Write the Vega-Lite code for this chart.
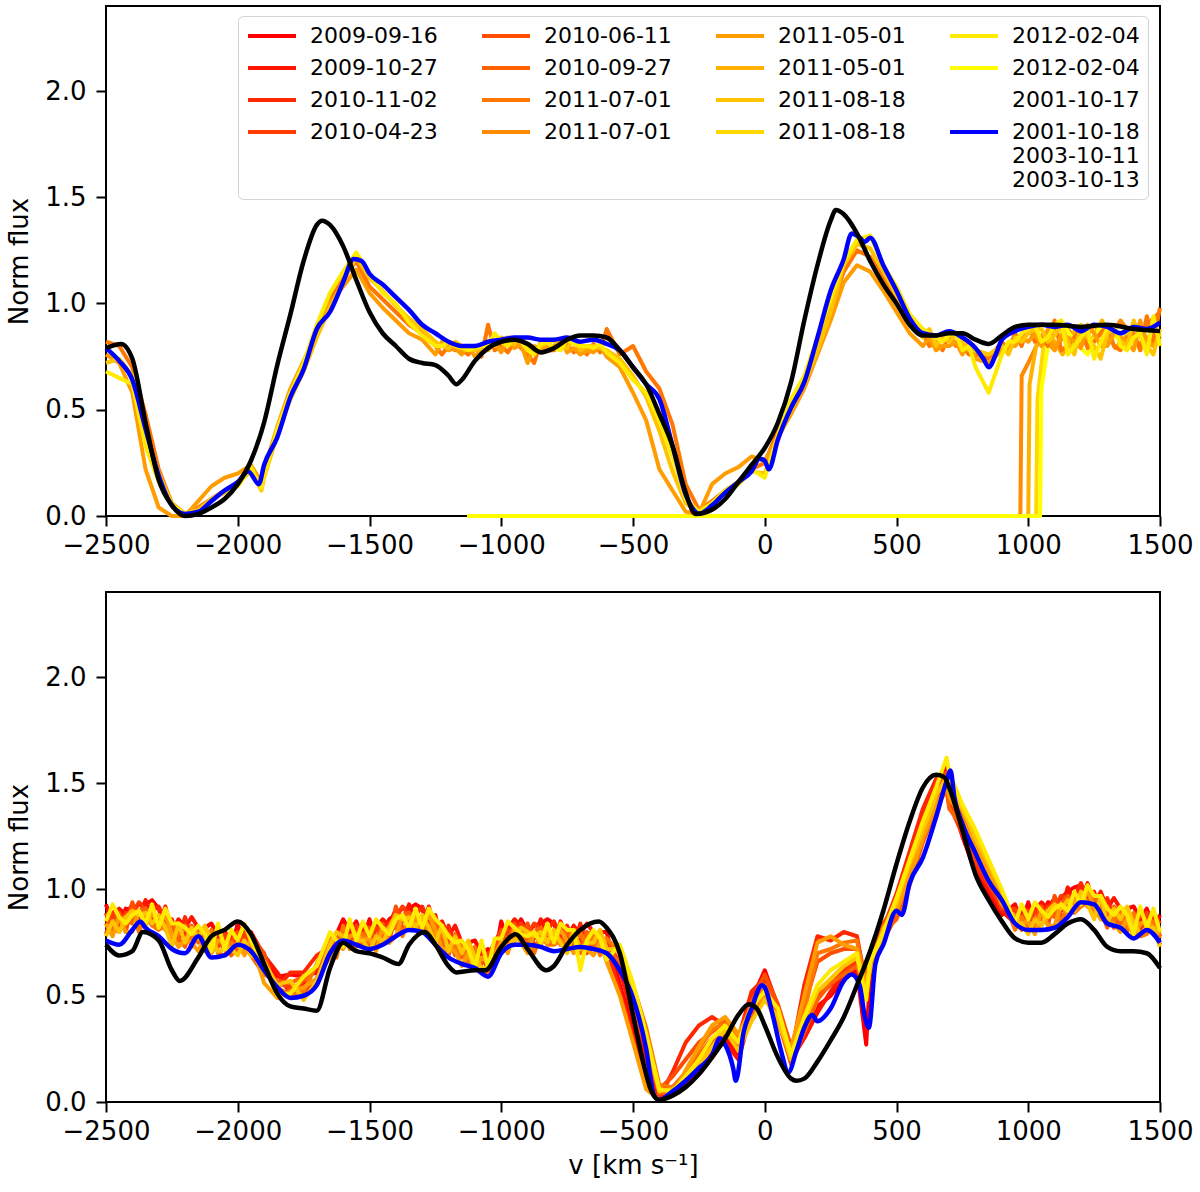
{
  "$schema": "https://vega.github.io/schema/vega-lite/v6.json",
  "background": "white",
  "padding": {"left": 5, "top": 5, "right": 5, "bottom": 5},
  "spacing": 76,
  "bounds": "flush",
  "datasets": {
    "topWide": [
      {"x":-2500,"G":0.82,"I":0.76,"K":0.72,"M":0.68},
      {"x":-2450,"G":0.80,"I":0.72,"K":0.74,"M":0.65},
      {"x":-2400,"G":0.70,"I":0.58,"K":0.66,"M":0.62},
      {"x":-2350,"G":0.48,"I":0.22,"K":0.40,"M":0.33},
      {"x":-2300,"G":0.22,"I":0.04,"K":0.20,"M":0.16},
      {"x":-2250,"G":0.06,"I":0.0,"K":0.06,"M":0.05},
      {"x":-2200,"G":0.01,"I":0.0,"K":0.01,"M":0.01},
      {"x":-2150,"G":0.04,"I":0.07,"K":0.03,"M":0.02},
      {"x":-2100,"G":0.08,"I":0.14,"K":0.08,"M":0.07},
      {"x":-2050,"G":0.12,"I":0.18,"K":0.11,"M":0.12},
      {"x":-2000,"G":0.15,"I":0.20,"K":0.16,"M":0.14},
      {"x":-1950,"G":0.22,"I":0.24,"K":0.21,"M":0.23},
      {"x":-1910,"G":0.14,"I":0.16,"K":0.12,"M":0.13},
      {"x":-1900,"G":0.20,"I":0.22,"K":0.18,"M":0.19},
      {"x":-1850,"G":0.40,"I":0.42,"K":0.38,"M":0.41},
      {"x":-1800,"G":0.57,"I":0.60,"K":0.55,"M":0.58},
      {"x":-1750,"G":0.70,"I":0.73,"K":0.68,"M":0.72},
      {"x":-1700,"G":0.88,"I":0.86,"K":0.84,"M":0.90},
      {"x":-1650,"G":1.02,"I":1.00,"K":0.98,"M":1.05},
      {"x":-1600,"G":1.12,"I":1.08,"K":1.10,"M":1.15},
      {"x":-1550,"G":1.20,"I":1.16,"K":1.22,"M":1.24},
      {"x":-1500,"G":1.08,"I":1.05,"K":1.12,"M":1.14},
      {"x":-1450,"G":1.02,"I":0.98,"K":1.06,"M":1.05},
      {"x":-1400,"G":0.96,"I":0.92,"K":0.99,"M":1.00},
      {"x":-1350,"G":0.90,"I":0.86,"K":0.93,"M":0.91},
      {"x":-1300,"G":0.86,"I":0.83,"K":0.88,"M":0.85},
      {"x":-1250,"G":0.80,"I":0.76,"K":0.82,"M":0.80},
      {"x":-1200,"G":0.80,"I":0.78,"K":0.79,"M":0.82},
      {"x":-1150,"G":0.78,"I":0.76,"K":0.80,"M":0.79},
      {"x":-1100,"G":0.80,"I":0.75,"K":0.78,"M":0.79},
      {"x":-1050,"G":0.90,"I":0.78,"K":0.82,"M":0.80},
      {"x":-1000,"G":0.80,"I":0.77,"K":0.84,"M":0.82},
      {"x":-950,"G":0.82,"I":0.79,"K":0.81,"M":0.84},
      {"x":-900,"G":0.76,"I":0.72,"K":0.80,"M":0.78},
      {"x":-850,"G":0.82,"I":0.78,"K":0.80,"M":0.81},
      {"x":-800,"G":0.78,"I":0.80,"K":0.83,"M":0.79},
      {"x":-750,"G":0.81,"I":0.77,"K":0.79,"M":0.83},
      {"x":-700,"G":0.80,"I":0.76,"K":0.78,"M":0.80},
      {"x":-650,"G":0.81,"I":0.77,"K":0.80,"M":0.79},
      {"x":-600,"G":0.88,"I":0.75,"K":0.78,"M":0.77},
      {"x":-550,"G":0.76,"I":0.70,"K":0.74,"M":0.72},
      {"x":-500,"G":0.80,"I":0.58,"K":0.66,"M":0.64},
      {"x":-450,"G":0.68,"I":0.45,"K":0.56,"M":0.58},
      {"x":-400,"G":0.60,"I":0.22,"K":0.40,"M":0.45},
      {"x":-350,"G":0.43,"I":0.12,"K":0.21,"M":0.28},
      {"x":-300,"G":0.15,"I":0.02,"K":0.06,"M":0.08},
      {"x":-250,"G":0.03,"I":0.01,"K":0.01,"M":0.02},
      {"x":-200,"G":0.07,"I":0.15,"K":0.06,"M":0.06},
      {"x":-150,"G":0.12,"I":0.20,"K":0.11,"M":0.12},
      {"x":-100,"G":0.16,"I":0.23,"K":0.15,"M":0.16},
      {"x":-50,"G":0.22,"I":0.28,"K":0.21,"M":0.22},
      {"x":0,"G":0.25,"I":0.26,"K":0.20,"M":0.18},
      {"x":50,"G":0.40,"I":0.37,"K":0.36,"M":0.38},
      {"x":100,"G":0.52,"I":0.48,"K":0.50,"M":0.55},
      {"x":150,"G":0.64,"I":0.60,"K":0.62,"M":0.66},
      {"x":200,"G":0.80,"I":0.76,"K":0.78,"M":0.84},
      {"x":250,"G":0.98,"I":0.92,"K":0.96,"M":1.02},
      {"x":300,"G":1.15,"I":1.10,"K":1.18,"M":1.20},
      {"x":350,"G":1.25,"I":1.18,"K":1.28,"M":1.30},
      {"x":400,"G":1.22,"I":1.15,"K":1.26,"M":1.32},
      {"x":450,"G":1.12,"I":1.06,"K":1.15,"M":1.18},
      {"x":500,"G":1.00,"I":0.96,"K":1.04,"M":1.08},
      {"x":550,"G":0.90,"I":0.86,"K":0.92,"M":0.95},
      {"x":600,"G":0.86,"I":0.80,"K":0.84,"M":0.88},
      {"x":650,"G":0.82,"I":0.78,"K":0.80,"M":0.84},
      {"x":700,"G":0.86,"I":0.80,"K":0.82,"M":0.85},
      {"x":750,"G":0.80,"I":0.76,"K":0.82,"M":0.78},
      {"x":800,"G":0.76,"I":0.74,"K":0.78,"M":0.70},
      {"x":850,"G":0.74,"I":0.72,"K":0.76,"M":0.58},
      {"x":900,"G":0.82,"I":0.78,"K":0.80,"M":0.76},
      {"x":950,"G":0.86,"I":0.80,"K":0.84,"M":0.82},
      {"x":1000,"G":0.90,"I":0.82,"K":0.86,"M":0.88},
      {"x":1050,"G":0.84,"I":0.80,"K":0.88,"M":0.82},
      {"x":1100,"G":0.92,"I":0.78,"K":0.85,"M":0.90},
      {"x":1150,"G":0.80,"I":0.84,"K":0.82,"M":0.76},
      {"x":1200,"G":0.88,"I":0.79,"K":0.90,"M":0.84},
      {"x":1250,"G":0.82,"I":0.86,"K":0.80,"M":0.74},
      {"x":1300,"G":0.90,"I":0.80,"K":0.86,"M":0.88},
      {"x":1350,"G":0.78,"I":0.84,"K":0.82,"M":0.80},
      {"x":1400,"G":0.86,"I":0.78,"K":0.92,"M":0.84},
      {"x":1450,"G":0.94,"I":0.82,"K":0.80,"M":0.76},
      {"x":1500,"G":0.98,"I":0.84,"K":0.88,"M":0.80},
      {"x":-1225,"G":0.76,"I":0.82,"K":0.80,"M":0.80},
      {"x":-1175,"G":0.78,"I":0.79,"K":0.82,"M":0.80},
      {"x":-1125,"G":0.76,"I":0.80,"K":0.79,"M":0.78},
      {"x":-1075,"G":0.75,"I":0.78,"K":0.79,"M":0.80},
      {"x":-1025,"G":0.78,"I":0.82,"K":0.80,"M":0.86},
      {"x":-975,"G":0.77,"I":0.84,"K":0.82,"M":0.80},
      {"x":-925,"G":0.79,"I":0.81,"K":0.84,"M":0.82},
      {"x":-875,"G":0.72,"I":0.80,"K":0.78,"M":0.76},
      {"x":-825,"G":0.78,"I":0.80,"K":0.81,"M":0.82},
      {"x":-775,"G":0.80,"I":0.83,"K":0.79,"M":0.78},
      {"x":-725,"G":0.77,"I":0.79,"K":0.83,"M":0.81},
      {"x":-675,"G":0.76,"I":0.78,"K":0.80,"M":0.80},
      {"x":-625,"G":0.77,"I":0.80,"K":0.79,"M":0.81},
      {"x":625,"G":0.80,"I":0.84,"K":0.88,"M":0.86},
      {"x":675,"G":0.78,"I":0.80,"K":0.84,"M":0.82},
      {"x":725,"G":0.80,"I":0.82,"K":0.85,"M":0.86},
      {"x":775,"G":0.76,"I":0.82,"K":0.78,"M":0.80},
      {"x":925,"G":0.78,"I":0.80,"K":0.76,"M":0.82},
      {"x":975,"G":0.80,"I":0.84,"K":0.82,"M":0.86},
      {"x":1025,"G":0.82,"I":0.86,"K":0.88,"M":0.90},
      {"x":1075,"G":0.80,"I":0.88,"K":0.82,"M":0.84},
      {"x":1125,"G":0.78,"I":0.85,"K":0.90,"M":0.92},
      {"x":1175,"G":0.84,"I":0.82,"K":0.76,"M":0.80},
      {"x":1225,"G":0.79,"I":0.90,"K":0.84,"M":0.88},
      {"x":1275,"G":0.86,"I":0.80,"K":0.74,"M":0.82},
      {"x":1325,"G":0.80,"I":0.86,"K":0.88,"M":0.90},
      {"x":1375,"G":0.84,"I":0.82,"K":0.80,"M":0.78},
      {"x":1425,"G":0.78,"I":0.92,"K":0.84,"M":0.86},
      {"x":1475,"G":0.82,"I":0.80,"K":0.76,"M":0.94}
    ],
    "topPart": [
      {"s":"H","x":[-1130,970,975,1000,1050,1100,1150,1200,1250,1300,1350,1400,1450,1500],"y":[0,0,0.66,0.72,0.85,0.78,0.88,0.80,0.90,0.82,0.92,0.84,0.90,0.96]},
      {"s":"J","x":[-1130,1000,1005,1030,1080,1130,1180,1230,1280,1330,1380,1430,1480,1500],"y":[0,0,0.62,0.80,0.86,0.76,0.88,0.80,0.92,0.79,0.86,0.80,0.88,0.84]},
      {"s":"L","x":[-1130,1030,1035,1060,1110,1160,1210,1260,1310,1360,1410,1460,1500],"y":[0,0,0.55,0.82,0.90,0.80,0.86,0.78,0.88,0.82,0.90,0.80,0.86]},
      {"s":"N","x":[-1130,1045,1050,1075,1125,1175,1225,1275,1325,1375,1425,1475,1500],"y":[0,0,0.60,0.80,0.92,0.82,0.76,0.90,0.84,0.88,0.78,0.86,0.82]}
    ],
    "topBlue": [
      {"s":"P","x":[-2500,-2450,-2400,-2350,-2300,-2250,-2200,-2150,-2100,-2050,-2000,-1960,-1920,-1900,-1850,-1800,-1750,-1700,-1650,-1600,-1560,-1530,-1500,-1450,-1400,-1350,-1300,-1250,-1200,-1150,-1100,-1050,-1000,-950,-900,-850,-800,-750,-700,-650,-600,-550,-500,-450,-400,-350,-300,-270,-250,-200,-150,-100,-50,-20,0,15,50,100,150,200,250,300,330,360,380,400,450,500,550,600,650,700,750,800,830,850,880,900,950,1000,1050,1100,1150,1200,1250,1300,1350,1400,1450,1500],
       "y":[0.79,0.73,0.64,0.41,0.19,0.05,0.01,0.02,0.07,0.12,0.16,0.21,0.15,0.24,0.37,0.56,0.69,0.88,0.96,1.10,1.21,1.20,1.14,1.09,1.03,0.97,0.90,0.86,0.82,0.80,0.80,0.82,0.83,0.84,0.84,0.83,0.83,0.84,0.82,0.83,0.81,0.78,0.70,0.62,0.55,0.33,0.10,0.03,0.01,0.05,0.11,0.16,0.21,0.27,0.26,0.22,0.36,0.51,0.63,0.84,1.06,1.21,1.33,1.31,1.29,1.31,1.18,1.06,0.93,0.86,0.85,0.87,0.84,0.79,0.74,0.70,0.77,0.83,0.87,0.89,0.90,0.89,0.90,0.87,0.90,0.89,0.86,0.89,0.88,0.91]}
    ],
    "topBlack": [
      {"x":[-2500,-2443,-2400,-2350,-2300,-2250,-2200,-2150,-2100,-2050,-2000,-1950,-1900,-1850,-1800,-1750,-1700,-1680,-1650,-1600,-1550,-1500,-1450,-1400,-1350,-1300,-1250,-1200,-1170,-1150,-1100,-1050,-1000,-950,-900,-850,-800,-750,-700,-650,-600,-550,-500,-450,-400,-350,-300,-263,-200,-150,-100,-50,0,50,100,150,200,250,270,300,350,400,450,500,550,600,650,700,750,800,850,900,950,1000,1100,1200,1300,1400,1500],
       "y":[0.79,0.81,0.74,0.44,0.17,0.05,0.0,0.01,0.04,0.08,0.15,0.26,0.44,0.71,0.95,1.20,1.37,1.39,1.37,1.27,1.11,0.96,0.86,0.80,0.74,0.72,0.71,0.66,0.62,0.64,0.73,0.79,0.82,0.83,0.81,0.77,0.79,0.83,0.85,0.85,0.84,0.78,0.70,0.62,0.48,0.33,0.11,0.01,0.03,0.08,0.16,0.24,0.32,0.44,0.63,0.92,1.18,1.39,1.44,1.42,1.33,1.20,1.09,1.00,0.90,0.85,0.85,0.86,0.86,0.83,0.81,0.85,0.89,0.90,0.90,0.89,0.90,0.88,0.87]}
    ],
    "botWide": [
      {"x":-2500,"A":0.93,"B":0.83,"C":0.89,"D":0.79,"E":0.89,"F":0.83,"G":0.82,"I":0.84,"K":0.78,"M":0.85},
      {"x":-2450,"A":0.84,"B":0.91,"C":0.88,"D":0.83,"E":0.89,"F":0.80,"G":0.86,"I":0.87,"K":0.80,"M":0.87},
      {"x":-2400,"A":0.90,"B":0.93,"C":0.87,"D":0.89,"E":0.94,"F":0.84,"G":0.90,"I":0.80,"K":0.90,"M":0.88},
      {"x":-2350,"A":0.93,"B":0.95,"C":0.88,"D":0.90,"E":0.84,"F":0.91,"G":0.88,"I":0.83,"K":0.89,"M":0.84},
      {"x":-2300,"A":0.91,"B":0.82,"C":0.92,"D":0.85,"E":0.84,"F":0.87,"G":0.81,"I":0.83,"K":0.88,"M":0.82},
      {"x":-2250,"A":0.84,"B":0.80,"C":0.86,"D":0.76,"E":0.82,"F":0.84,"G":0.77,"I":0.79,"K":0.73,"M":0.84},
      {"x":-2200,"A":0.79,"B":0.82,"C":0.87,"D":0.76,"E":0.82,"F":0.73,"G":0.83,"I":0.76,"K":0.75,"M":0.82},
      {"x":-2150,"A":0.79,"B":0.82,"C":0.76,"D":0.82,"E":0.79,"F":0.75,"G":0.81,"I":0.71,"K":0.77,"M":0.83},
      {"x":-2100,"A":0.84,"B":0.78,"C":0.77,"D":0.79,"E":0.73,"F":0.76,"G":0.81,"I":0.70,"K":0.76,"M":0.71},
      {"x":-2050,"A":0.81,"B":0.72,"C":0.78,"D":0.79,"E":0.72,"F":0.75,"G":0.69,"I":0.75,"K":0.72,"M":0.72},
      {"x":-2000,"A":0.84,"B":0.74,"C":0.80,"D":0.70,"E":0.80,"F":0.74,"G":0.73,"I":0.75,"K":0.69,"M":0.76},
      {"x":-1950,"A":0.73,"B":0.80,"C":0.77,"D":0.72,"E":0.78,"F":0.69,"G":0.75,"I":0.76,"K":0.69,"M":0.76},
      {"x":-1900,"A":0.66,"B":0.69,"C":0.63,"D":0.65,"E":0.70,"F":0.60,"G":0.66,"I":0.56,"K":0.66,"M":0.64},
      {"x":-1850,"A":0.59,"B":0.61,"C":0.54,"D":0.56,"E":0.50,"F":0.57,"G":0.54,"I":0.49,"K":0.55,"M":0.50},
      {"x":-1800,"A":0.60,"B":0.51,"C":0.61,"D":0.54,"E":0.53,"F":0.56,"G":0.50,"I":0.52,"K":0.57,"M":0.51},
      {"x":-1750,"A":0.59,"B":0.55,"C":0.61,"D":0.51,"E":0.57,"F":0.59,"G":0.52,"I":0.54,"K":0.48,"M":0.59},
      {"x":-1700,"A":0.61,"B":0.64,"C":0.69,"D":0.58,"E":0.64,"F":0.55,"G":0.65,"I":0.58,"K":0.57,"M":0.64},
      {"x":-1650,"A":0.76,"B":0.79,"C":0.73,"D":0.79,"E":0.76,"F":0.72,"G":0.78,"I":0.68,"K":0.74,"M":0.80},
      {"x":-1600,"A":0.86,"B":0.80,"C":0.79,"D":0.81,"E":0.75,"F":0.78,"G":0.83,"I":0.72,"K":0.78,"M":0.73},
      {"x":-1550,"A":0.85,"B":0.76,"C":0.82,"D":0.83,"E":0.76,"F":0.79,"G":0.73,"I":0.79,"K":0.76,"M":0.76},
      {"x":-1500,"A":0.86,"B":0.76,"C":0.82,"D":0.72,"E":0.82,"F":0.76,"G":0.75,"I":0.77,"K":0.71,"M":0.78},
      {"x":-1450,"A":0.79,"B":0.86,"C":0.83,"D":0.78,"E":0.84,"F":0.75,"G":0.81,"I":0.82,"K":0.75,"M":0.82},
      {"x":-1400,"A":0.88,"B":0.91,"C":0.85,"D":0.87,"E":0.92,"F":0.82,"G":0.88,"I":0.78,"K":0.88,"M":0.86},
      {"x":-1350,"A":0.91,"B":0.93,"C":0.86,"D":0.88,"E":0.82,"F":0.89,"G":0.86,"I":0.81,"K":0.87,"M":0.82},
      {"x":-1300,"A":0.91,"B":0.82,"C":0.92,"D":0.85,"E":0.84,"F":0.87,"G":0.81,"I":0.83,"K":0.88,"M":0.82},
      {"x":-1250,"A":0.86,"B":0.82,"C":0.88,"D":0.78,"E":0.84,"F":0.86,"G":0.79,"I":0.81,"K":0.75,"M":0.86},
      {"x":-1200,"A":0.75,"B":0.78,"C":0.83,"D":0.72,"E":0.78,"F":0.69,"G":0.79,"I":0.72,"K":0.71,"M":0.78},
      {"x":-1150,"A":0.72,"B":0.75,"C":0.69,"D":0.75,"E":0.72,"F":0.68,"G":0.74,"I":0.64,"K":0.70,"M":0.76},
      {"x":-1100,"A":0.76,"B":0.70,"C":0.69,"D":0.71,"E":0.65,"F":0.68,"G":0.73,"I":0.62,"K":0.68,"M":0.63},
      {"x":-1050,"A":0.72,"B":0.63,"C":0.69,"D":0.70,"E":0.63,"F":0.66,"G":0.60,"I":0.66,"K":0.63,"M":0.63},
      {"x":-1000,"A":0.85,"B":0.75,"C":0.81,"D":0.71,"E":0.81,"F":0.75,"G":0.74,"I":0.76,"K":0.70,"M":0.77},
      {"x":-950,"A":0.79,"B":0.86,"C":0.83,"D":0.78,"E":0.84,"F":0.75,"G":0.81,"I":0.82,"K":0.75,"M":0.82},
      {"x":-900,"A":0.80,"B":0.83,"C":0.77,"D":0.79,"E":0.84,"F":0.74,"G":0.80,"I":0.70,"K":0.80,"M":0.78},
      {"x":-850,"A":0.84,"B":0.86,"C":0.79,"D":0.81,"E":0.75,"F":0.82,"G":0.79,"I":0.74,"K":0.80,"M":0.75},
      {"x":-800,"A":0.84,"B":0.75,"C":0.85,"D":0.78,"E":0.77,"F":0.80,"G":0.74,"I":0.76,"K":0.81,"M":0.75},
      {"x":-750,"A":0.81,"B":0.77,"C":0.83,"D":0.73,"E":0.79,"F":0.81,"G":0.74,"I":0.76,"K":0.70,"M":0.81},
      {"x":-700,"A":0.76,"B":0.79,"C":0.84,"D":0.73,"E":0.79,"F":0.70,"G":0.80,"I":0.73,"K":0.72,"M":0.62},
      {"x":-650,"A":0.77,"B":0.80,"C":0.74,"D":0.80,"E":0.77,"F":0.73,"G":0.79,"I":0.69,"K":0.75,"M":0.81},
      {"x":-600,"A":0.80,"B":0.74,"C":0.73,"D":0.75,"E":0.69,"F":0.72,"G":0.77,"I":0.66,"K":0.72,"M":0.67},
      {"x":-550,"A":0.55,"B":0.62,"C":0.52,"D":0.66,"E":0.64,"F":0.66,"G":0.70,"I":0.50,"K":0.72,"M":0.74},
      {"x":-500,"A":0.35,"B":0.40,"C":0.30,"D":0.45,"E":0.50,"F":0.45,"G":0.55,"I":0.28,"K":0.52,"M":0.56},
      {"x":-450,"A":0.10,"B":0.20,"C":0.08,"D":0.25,"E":0.32,"F":0.26,"G":0.35,"I":0.06,"K":0.30,"M":0.32},
      {"x":-400,"A":0.02,"B":0.03,"C":0.02,"D":0.05,"E":0.06,"F":0.04,"G":0.08,"I":0.01,"K":0.05,"M":0.06},
      {"x":-350,"A":0.05,"B":0.04,"C":0.14,"D":0.06,"E":0.12,"F":0.05,"G":0.07,"I":0.03,"K":0.06,"M":0.05},
      {"x":-300,"A":0.10,"B":0.08,"C":0.28,"D":0.10,"E":0.20,"F":0.12,"G":0.14,"I":0.15,"K":0.10,"M":0.12},
      {"x":-250,"A":0.18,"B":0.15,"C":0.36,"D":0.20,"E":0.28,"F":0.22,"G":0.25,"I":0.26,"K":0.17,"M":0.20},
      {"x":-200,"A":0.25,"B":0.24,"C":0.40,"D":0.28,"E":0.33,"F":0.30,"G":0.34,"I":0.36,"K":0.26,"M":0.30},
      {"x":-150,"A":0.30,"B":0.28,"C":0.36,"D":0.32,"E":0.38,"F":0.33,"G":0.37,"I":0.40,"K":0.34,"M":0.36},
      {"x":-100,"A":0.22,"B":0.20,"C":0.30,"D":0.25,"E":0.28,"F":0.26,"G":0.30,"I":0.32,"K":0.24,"M":0.28},
      {"x":-50,"A":0.48,"B":0.42,"C":0.52,"D":0.45,"E":0.47,"F":0.40,"G":0.46,"I":0.44,"K":0.38,"M":0.45},
      {"x":0,"A":0.62,"B":0.55,"C":0.58,"D":0.52,"E":0.60,"F":0.50,"G":0.55,"I":0.50,"K":0.48,"M":0.52},
      {"x":50,"A":0.45,"B":0.40,"C":0.44,"D":0.42,"E":0.46,"F":0.38,"G":0.42,"I":0.36,"K":0.40,"M":0.44},
      {"x":100,"A":0.18,"B":0.20,"C":0.22,"D":0.24,"E":0.26,"F":0.18,"G":0.22,"I":0.25,"K":0.20,"M":0.22},
      {"x":150,"A":0.32,"B":0.30,"C":0.55,"D":0.36,"E":0.45,"F":0.33,"G":0.42,"I":0.50,"K":0.38,"M":0.40},
      {"x":200,"A":0.45,"B":0.42,"C":0.78,"D":0.50,"E":0.66,"F":0.48,"G":0.70,"I":0.75,"K":0.52,"M":0.55},
      {"x":250,"A":0.50,"B":0.52,"C":0.76,"D":0.55,"E":0.70,"F":0.56,"G":0.72,"I":0.78,"K":0.58,"M":0.62},
      {"x":300,"A":0.58,"B":0.60,"C":0.80,"D":0.62,"E":0.72,"F":0.60,"G":0.75,"I":0.74,"K":0.64,"M":0.66},
      {"x":350,"A":0.62,"B":0.66,"C":0.78,"D":0.66,"E":0.72,"F":0.64,"G":0.76,"I":0.72,"K":0.68,"M":0.70},
      {"x":385,"A":0.27,"B":0.50,"C":0.55,"D":0.52,"E":0.58,"F":0.50,"G":0.55,"I":0.55,"K":0.50,"M":0.48},
      {"x":400,"A":0.60,"B":0.62,"C":0.68,"D":0.66,"E":0.70,"F":0.64,"G":0.66,"I":0.62,"K":0.68,"M":0.66},
      {"x":450,"A":0.80,"B":0.78,"C":0.82,"D":0.76,"E":0.84,"F":0.80,"G":0.78,"I":0.82,"K":0.77,"M":0.80},
      {"x":500,"A":0.95,"B":0.90,"C":0.98,"D":0.88,"E":0.94,"F":0.86,"G":0.92,"I":0.90,"K":0.94,"M":0.96},
      {"x":550,"A":1.15,"B":1.05,"C":1.18,"D":1.08,"E":1.12,"F":1.02,"G":1.10,"I":1.06,"K":1.12,"M":1.14},
      {"x":600,"A":1.35,"B":1.25,"C":1.38,"D":1.28,"E":1.32,"F":1.22,"G":1.30,"I":1.24,"K":1.28,"M":1.32},
      {"x":650,"A":1.50,"B":1.42,"C":1.52,"D":1.40,"E":1.48,"F":1.38,"G":1.45,"I":1.40,"K":1.44,"M":1.48},
      {"x":690,"A":1.58,"B":1.50,"C":1.52,"D":1.48,"E":1.55,"F":1.47,"G":1.50,"I":1.48,"K":1.53,"M":1.62},
      {"x":700,"A":1.45,"B":1.42,"C":1.48,"D":1.40,"E":1.50,"F":1.38,"G":1.46,"I":1.44,"K":1.50,"M":1.55},
      {"x":750,"A":1.25,"B":1.28,"C":1.30,"D":1.26,"E":1.34,"F":1.30,"G":1.35,"I":1.32,"K":1.38,"M":1.40},
      {"x":800,"A":1.08,"B":1.12,"C":1.10,"D":1.14,"E":1.18,"F":1.16,"G":1.22,"I":1.20,"K":1.24,"M":1.28},
      {"x":850,"A":0.98,"B":1.00,"C":1.02,"D":1.03,"E":1.06,"F":1.05,"G":1.10,"I":1.08,"K":1.12,"M":1.14},
      {"x":900,"A":0.88,"B":0.90,"C":0.92,"D":0.91,"E":0.95,"F":0.94,"G":0.97,"I":0.93,"K":0.99,"M":1.00},
      {"x":950,"A":0.93,"B":0.84,"C":0.90,"D":0.91,"E":0.84,"F":0.87,"G":0.81,"I":0.87,"K":0.84,"M":0.84},
      {"x":1000,"A":0.94,"B":0.84,"C":0.90,"D":0.80,"E":0.90,"F":0.84,"G":0.83,"I":0.85,"K":0.79,"M":0.86},
      {"x":1050,"A":0.87,"B":0.94,"C":0.91,"D":0.86,"E":0.92,"F":0.83,"G":0.89,"I":0.90,"K":0.83,"M":0.90},
      {"x":1100,"A":0.93,"B":0.96,"C":0.90,"D":0.92,"E":0.97,"F":0.87,"G":0.93,"I":0.83,"K":0.93,"M":0.91},
      {"x":1150,"A":0.99,"B":1.01,"C":0.94,"D":0.96,"E":0.90,"F":0.97,"G":0.94,"I":0.89,"K":0.95,"M":0.90},
      {"x":1200,"A":1.02,"B":0.93,"C":1.03,"D":0.96,"E":0.95,"F":0.98,"G":0.92,"I":0.94,"K":0.99,"M":0.93},
      {"x":1250,"A":0.97,"B":0.93,"C":0.99,"D":0.89,"E":0.95,"F":0.97,"G":0.90,"I":0.92,"K":0.86,"M":0.97},
      {"x":1300,"A":0.88,"B":0.91,"C":0.96,"D":0.85,"E":0.91,"F":0.82,"G":0.92,"I":0.85,"K":0.84,"M":0.91},
      {"x":1350,"A":0.88,"B":0.91,"C":0.85,"D":0.91,"E":0.88,"F":0.84,"G":0.90,"I":0.80,"K":0.86,"M":0.92},
      {"x":1400,"A":0.92,"B":0.86,"C":0.85,"D":0.87,"E":0.81,"F":0.84,"G":0.89,"I":0.78,"K":0.84,"M":0.79},
      {"x":1450,"A":0.91,"B":0.82,"C":0.88,"D":0.89,"E":0.82,"F":0.85,"G":0.79,"I":0.85,"K":0.82,"M":0.82},
      {"x":1500,"A":0.88,"B":0.78,"C":0.84,"D":0.74,"E":0.84,"F":0.78,"G":0.77,"I":0.79,"K":0.73,"M":0.80},
      {"x":-2475,"A":0.83,"B":0.89,"C":0.79,"D":0.89,"E":0.83,"F":0.82,"G":0.84,"I":0.78,"K":0.85,"M":0.93},
      {"x":-2425,"A":0.91,"B":0.88,"C":0.83,"D":0.89,"E":0.80,"F":0.86,"G":0.87,"I":0.80,"K":0.87,"M":0.84},
      {"x":-2375,"A":0.93,"B":0.87,"C":0.89,"D":0.94,"E":0.84,"F":0.90,"G":0.80,"I":0.90,"K":0.88,"M":0.90},
      {"x":-2325,"A":0.95,"B":0.88,"C":0.90,"D":0.84,"E":0.91,"F":0.88,"G":0.83,"I":0.89,"K":0.84,"M":0.93},
      {"x":-2275,"A":0.82,"B":0.92,"C":0.85,"D":0.84,"E":0.87,"F":0.81,"G":0.83,"I":0.88,"K":0.82,"M":0.91},
      {"x":-2225,"A":0.80,"B":0.86,"C":0.76,"D":0.82,"E":0.84,"F":0.77,"G":0.79,"I":0.73,"K":0.84,"M":0.84},
      {"x":-2175,"A":0.82,"B":0.87,"C":0.76,"D":0.82,"E":0.73,"F":0.83,"G":0.76,"I":0.75,"K":0.82,"M":0.79},
      {"x":-2125,"A":0.82,"B":0.76,"C":0.82,"D":0.79,"E":0.75,"F":0.81,"G":0.71,"I":0.77,"K":0.83,"M":0.79},
      {"x":-2075,"A":0.78,"B":0.77,"C":0.79,"D":0.73,"E":0.76,"F":0.81,"G":0.70,"I":0.76,"K":0.71,"M":0.84},
      {"x":-2025,"A":0.72,"B":0.78,"C":0.79,"D":0.72,"E":0.75,"F":0.69,"G":0.75,"I":0.72,"K":0.72,"M":0.81},
      {"x":-1975,"A":0.74,"B":0.80,"C":0.70,"D":0.80,"E":0.74,"F":0.73,"G":0.75,"I":0.69,"K":0.76,"M":0.84},
      {"x":-1625,"A":0.79,"B":0.73,"C":0.79,"D":0.76,"E":0.72,"F":0.78,"G":0.68,"I":0.74,"K":0.80,"M":0.76},
      {"x":-1575,"A":0.80,"B":0.79,"C":0.81,"D":0.75,"E":0.78,"F":0.83,"G":0.72,"I":0.78,"K":0.73,"M":0.86},
      {"x":-1525,"A":0.76,"B":0.82,"C":0.83,"D":0.76,"E":0.79,"F":0.73,"G":0.79,"I":0.76,"K":0.76,"M":0.85},
      {"x":-1475,"A":0.76,"B":0.82,"C":0.72,"D":0.82,"E":0.76,"F":0.75,"G":0.77,"I":0.71,"K":0.78,"M":0.86},
      {"x":-1425,"A":0.86,"B":0.83,"C":0.78,"D":0.84,"E":0.75,"F":0.81,"G":0.82,"I":0.75,"K":0.82,"M":0.79},
      {"x":-1375,"A":0.91,"B":0.85,"C":0.87,"D":0.92,"E":0.82,"F":0.88,"G":0.78,"I":0.88,"K":0.86,"M":0.88},
      {"x":-1325,"A":0.93,"B":0.86,"C":0.88,"D":0.82,"E":0.89,"F":0.86,"G":0.81,"I":0.87,"K":0.82,"M":0.91},
      {"x":-1275,"A":0.82,"B":0.92,"C":0.85,"D":0.84,"E":0.87,"F":0.81,"G":0.83,"I":0.88,"K":0.82,"M":0.91},
      {"x":-1225,"A":0.79,"B":0.85,"C":0.75,"D":0.81,"E":0.83,"F":0.76,"G":0.78,"I":0.72,"K":0.83,"M":0.83},
      {"x":-1175,"A":0.78,"B":0.83,"C":0.72,"D":0.78,"E":0.69,"F":0.79,"G":0.72,"I":0.71,"K":0.78,"M":0.75},
      {"x":-1125,"A":0.75,"B":0.69,"C":0.75,"D":0.72,"E":0.68,"F":0.74,"G":0.64,"I":0.70,"K":0.76,"M":0.72},
      {"x":-1075,"A":0.70,"B":0.69,"C":0.71,"D":0.65,"E":0.68,"F":0.73,"G":0.62,"I":0.68,"K":0.63,"M":0.76},
      {"x":-1025,"A":0.68,"B":0.74,"C":0.75,"D":0.68,"E":0.71,"F":0.65,"G":0.71,"I":0.68,"K":0.68,"M":0.77},
      {"x":-975,"A":0.75,"B":0.81,"C":0.71,"D":0.81,"E":0.75,"F":0.74,"G":0.76,"I":0.70,"K":0.77,"M":0.85},
      {"x":-925,"A":0.86,"B":0.83,"C":0.78,"D":0.84,"E":0.75,"F":0.81,"G":0.82,"I":0.75,"K":0.82,"M":0.79},
      {"x":-875,"A":0.83,"B":0.77,"C":0.79,"D":0.84,"E":0.74,"F":0.80,"G":0.70,"I":0.80,"K":0.78,"M":0.80},
      {"x":-825,"A":0.86,"B":0.79,"C":0.81,"D":0.75,"E":0.82,"F":0.79,"G":0.74,"I":0.80,"K":0.75,"M":0.84},
      {"x":-775,"A":0.75,"B":0.85,"C":0.78,"D":0.77,"E":0.80,"F":0.74,"G":0.76,"I":0.81,"K":0.75,"M":0.84},
      {"x":-725,"A":0.77,"B":0.83,"C":0.73,"D":0.79,"E":0.81,"F":0.74,"G":0.76,"I":0.70,"K":0.81,"M":0.81},
      {"x":-675,"A":0.79,"B":0.84,"C":0.73,"D":0.79,"E":0.70,"F":0.80,"G":0.73,"I":0.72,"K":0.75,"M":0.76},
      {"x":-625,"A":0.80,"B":0.74,"C":0.80,"D":0.77,"E":0.73,"F":0.79,"G":0.69,"I":0.75,"K":0.81,"M":0.77},
      {"x":975,"A":0.84,"B":0.90,"C":0.91,"D":0.84,"E":0.87,"F":0.81,"G":0.87,"I":0.84,"K":0.84,"M":0.93},
      {"x":1025,"A":0.84,"B":0.90,"C":0.80,"D":0.90,"E":0.84,"F":0.83,"G":0.85,"I":0.79,"K":0.86,"M":0.94},
      {"x":1075,"A":0.94,"B":0.91,"C":0.86,"D":0.92,"E":0.83,"F":0.89,"G":0.90,"I":0.83,"K":0.90,"M":0.87},
      {"x":1125,"A":0.96,"B":0.90,"C":0.92,"D":0.97,"E":0.87,"F":0.93,"G":0.83,"I":0.93,"K":0.91,"M":0.93},
      {"x":1175,"A":1.01,"B":0.94,"C":0.96,"D":0.90,"E":0.97,"F":0.94,"G":0.89,"I":0.95,"K":0.90,"M":0.99},
      {"x":1225,"A":0.93,"B":1.03,"C":0.96,"D":0.95,"E":0.98,"F":0.92,"G":0.94,"I":0.99,"K":0.93,"M":1.02},
      {"x":1275,"A":0.93,"B":0.99,"C":0.89,"D":0.95,"E":0.97,"F":0.90,"G":0.92,"I":0.86,"K":0.97,"M":0.97},
      {"x":1325,"A":0.91,"B":0.96,"C":0.85,"D":0.91,"E":0.82,"F":0.92,"G":0.85,"I":0.84,"K":0.91,"M":0.88},
      {"x":1375,"A":0.91,"B":0.85,"C":0.91,"D":0.88,"E":0.84,"F":0.90,"G":0.80,"I":0.86,"K":0.92,"M":0.88},
      {"x":1425,"A":0.86,"B":0.85,"C":0.87,"D":0.81,"E":0.84,"F":0.89,"G":0.78,"I":0.84,"K":0.79,"M":0.92},
      {"x":1475,"A":0.82,"B":0.88,"C":0.89,"D":0.82,"E":0.85,"F":0.79,"G":0.85,"I":0.82,"K":0.82,"M":0.91}
    ],
    "botBlue": [
      {"s":"P","x":[-2500,-2450,-2400,-2370,-2350,-2300,-2250,-2200,-2150,-2100,-2050,-2000,-1950,-1900,-1850,-1800,-1750,-1700,-1650,-1600,-1550,-1500,-1450,-1400,-1350,-1300,-1250,-1200,-1150,-1100,-1050,-1000,-950,-900,-850,-800,-750,-700,-650,-600,-550,-500,-450,-420,-400,-350,-300,-250,-200,-170,-150,-120,-110,-80,-50,-10,0,30,60,90,120,150,180,200,250,300,330,360,380,395,420,450,500,520,550,600,650,690,705,720,750,800,850,900,950,1000,1050,1100,1150,1200,1250,1300,1350,1400,1450,1500],
       "y":[0.76,0.74,0.81,0.85,0.82,0.78,0.72,0.70,0.78,0.68,0.69,0.74,0.71,0.62,0.54,0.49,0.50,0.55,0.70,0.76,0.74,0.72,0.74,0.78,0.81,0.80,0.74,0.68,0.65,0.63,0.59,0.70,0.74,0.74,0.73,0.71,0.72,0.73,0.72,0.70,0.62,0.49,0.25,0.03,0.01,0.05,0.10,0.16,0.22,0.30,0.27,0.16,0.10,0.33,0.44,0.55,0.54,0.41,0.25,0.14,0.24,0.35,0.41,0.38,0.44,0.57,0.60,0.55,0.40,0.35,0.65,0.74,0.90,0.88,1.03,1.15,1.34,1.51,1.56,1.43,1.31,1.17,1.04,0.95,0.84,0.81,0.81,0.82,0.87,0.94,0.93,0.84,0.82,0.77,0.81,0.75]}
    ],
    "botBlack": [
      {"x":[-2500,-2450,-2400,-2360,-2300,-2250,-2220,-2150,-2100,-2050,-2000,-1950,-1900,-1850,-1800,-1750,-1700,-1650,-1600,-1550,-1500,-1450,-1390,-1350,-1290,-1250,-1200,-1170,-1100,-1060,-1000,-945,-900,-830,-800,-750,-700,-630,-600,-550,-500,-460,-430,-400,-350,-300,-250,-200,-150,-100,-60,-30,0,50,100,120,150,200,250,300,350,400,450,500,550,600,650,680,700,750,800,850,900,950,1000,1050,1100,1150,1200,1250,1300,1350,1400,1450,1500],
       "y":[0.74,0.69,0.71,0.80,0.76,0.62,0.57,0.68,0.78,0.81,0.85,0.79,0.65,0.51,0.45,0.44,0.43,0.63,0.75,0.71,0.70,0.68,0.65,0.74,0.80,0.74,0.64,0.61,0.62,0.62,0.73,0.79,0.72,0.62,0.64,0.74,0.81,0.85,0.82,0.70,0.41,0.18,0.05,0.01,0.03,0.07,0.13,0.21,0.30,0.41,0.46,0.44,0.36,0.21,0.11,0.10,0.11,0.19,0.29,0.40,0.55,0.71,0.90,1.12,1.32,1.48,1.54,1.53,1.48,1.28,1.07,0.95,0.85,0.77,0.75,0.75,0.79,0.84,0.86,0.81,0.73,0.71,0.71,0.70,0.63]}
    ]
  },
  "vconcat": [
    {
      "width": 1054,
      "height": 510,
      "encoding": {
        "x": {"field": "x", "type": "quantitative", "scale": {"domain": [-2500, 1500], "nice": false},
              "axis": {"values": [-2500, -2000, -1500, -1000, -500, 0, 500, 1000, 1500], "format": "d", "title": null}},
        "y": {"field": "y", "type": "quantitative", "scale": {"domain": [0, 2.4], "nice": false},
              "axis": {"values": [0, 0.5, 1, 1.5, 2], "format": ".1f", "title": "Norm flux"}}
      },
      "layer": [
        {
          "data": {"name": "topPart"},
          "transform": [{"flatten": ["x", "y"]}],
          "mark": {"type": "line", "strokeWidth": 4},
          "encoding": {
            "color": {"field": "s", "type": "nominal",
              "scale": {"domain": ["A","B","C","D","E","F","G","H","I","J","K","L","M","N","O","P"],
                        "range": ["#ff0000","#ff1400","#ff2700","#ff3b00","#ff4e00","#ff6200","#ff7600","#ff8900","#ff9d00","#ffb100","#ffc400","#ffd800","#ffeb00","#ffff00","#ffffff","#0000ff"]},
              "legend": {
                "title": null, "orient": "none", "legendX": 132, "legendY": 10, "columns": 4,
                "symbolType": "M-1,0H3.8", "symbolStrokeWidth": 4, "symbolSize": 400,
                "labelFont": "DejaVu Sans", "labelFontSize": 22, "labelColor": "#000000",
                "labelOffset": 40, "labelLimit": 400, "columnPadding": 42, "rowPadding": 9,
                "padding": 8, "fillColor": "#ffffff", "strokeColor": "#d4d4d4", "cornerRadius": 5,
                "labelExpr": "datum.label=='A'?'2009-09-16':datum.label=='B'?'2009-10-27':datum.label=='C'?'2010-11-02':datum.label=='D'?'2010-04-23':datum.label=='E'?'2010-06-11':datum.label=='F'?'2010-09-27':datum.label=='G'?'2011-07-01':datum.label=='H'?'2011-07-01':datum.label=='I'?'2011-05-01':datum.label=='J'?'2011-05-01':datum.label=='K'?'2011-08-18':datum.label=='L'?'2011-08-18':datum.label=='M'?'2012-02-04':datum.label=='N'?'2012-02-04':datum.label=='O'?'2001-10-17':['2001-10-18','2003-10-11','2003-10-13']"
              }}
          }
        },
        {
          "data": {"name": "topWide"},
          "transform": [{"fold": ["G", "I", "K", "M"], "as": ["s", "y"]}],
          "mark": {"type": "line", "strokeWidth": 4},
          "encoding": {
            "color": {"field": "s", "type": "nominal",
              "scale": {"domain": ["A","B","C","D","E","F","G","H","I","J","K","L","M","N","O","P"],
                        "range": ["#ff0000","#ff1400","#ff2700","#ff3b00","#ff4e00","#ff6200","#ff7600","#ff8900","#ff9d00","#ffb100","#ffc400","#ffd800","#ffeb00","#ffff00","#ffffff","#0000ff"]},
              "legend": {
                "title": null, "orient": "none", "legendX": 132, "legendY": 10, "columns": 4,
                "symbolType": "M-1,0H3.8", "symbolStrokeWidth": 4, "symbolSize": 400,
                "labelFont": "DejaVu Sans", "labelFontSize": 22, "labelColor": "#000000",
                "labelOffset": 40, "labelLimit": 400, "columnPadding": 42, "rowPadding": 9,
                "padding": 8, "fillColor": "#ffffff", "strokeColor": "#d4d4d4", "cornerRadius": 5,
                "labelExpr": "datum.label=='A'?'2009-09-16':datum.label=='B'?'2009-10-27':datum.label=='C'?'2010-11-02':datum.label=='D'?'2010-04-23':datum.label=='E'?'2010-06-11':datum.label=='F'?'2010-09-27':datum.label=='G'?'2011-07-01':datum.label=='H'?'2011-07-01':datum.label=='I'?'2011-05-01':datum.label=='J'?'2011-05-01':datum.label=='K'?'2011-08-18':datum.label=='L'?'2011-08-18':datum.label=='M'?'2012-02-04':datum.label=='N'?'2012-02-04':datum.label=='O'?'2001-10-17':['2001-10-18','2003-10-11','2003-10-13']"
              }}
          }
        },
        {
          "data": {"name": "topBlue"},
          "transform": [{"flatten": ["x", "y"]}],
          "mark": {"type": "line", "strokeWidth": 4.5, "interpolate": "monotone"},
          "encoding": {
            "color": {"field": "s", "type": "nominal",
              "scale": {"domain": ["A","B","C","D","E","F","G","H","I","J","K","L","M","N","O","P"],
                        "range": ["#ff0000","#ff1400","#ff2700","#ff3b00","#ff4e00","#ff6200","#ff7600","#ff8900","#ff9d00","#ffb100","#ffc400","#ffd800","#ffeb00","#ffff00","#ffffff","#0000ff"]},
              "legend": {
                "title": null, "orient": "none", "legendX": 132, "legendY": 10, "columns": 4,
                "symbolType": "M-1,0H3.8", "symbolStrokeWidth": 4, "symbolSize": 400,
                "labelFont": "DejaVu Sans", "labelFontSize": 22, "labelColor": "#000000",
                "labelOffset": 40, "labelLimit": 400, "columnPadding": 42, "rowPadding": 9,
                "padding": 8, "fillColor": "#ffffff", "strokeColor": "#d4d4d4", "cornerRadius": 5,
                "labelExpr": "datum.label=='A'?'2009-09-16':datum.label=='B'?'2009-10-27':datum.label=='C'?'2010-11-02':datum.label=='D'?'2010-04-23':datum.label=='E'?'2010-06-11':datum.label=='F'?'2010-09-27':datum.label=='G'?'2011-07-01':datum.label=='H'?'2011-07-01':datum.label=='I'?'2011-05-01':datum.label=='J'?'2011-05-01':datum.label=='K'?'2011-08-18':datum.label=='L'?'2011-08-18':datum.label=='M'?'2012-02-04':datum.label=='N'?'2012-02-04':datum.label=='O'?'2001-10-17':['2001-10-18','2003-10-11','2003-10-13']"
              }}
          }
        },
        {
          "data": {"name": "topBlack"},
          "transform": [{"flatten": ["x", "y"]}],
          "mark": {"type": "line", "strokeWidth": 4.5, "color": "#000000", "interpolate": "monotone"},
          "encoding": {}
        }
      ]
    },
    {
      "width": 1054,
      "height": 510,
      "encoding": {
        "x": {"field": "x", "type": "quantitative", "scale": {"domain": [-2500, 1500], "nice": false},
              "axis": {"values": [-2500, -2000, -1500, -1000, -500, 0, 500, 1000, 1500], "format": "d", "title": "v [km s⁻¹]"}},
        "y": {"field": "y", "type": "quantitative", "scale": {"domain": [0, 2.4], "nice": false},
              "axis": {"values": [0, 0.5, 1, 1.5, 2], "format": ".1f", "title": "Norm flux"}}
      },
      "layer": [
        {
          "data": {"name": "botWide"},
          "transform": [{"fold": ["A", "B", "C", "D", "E", "F", "G", "I", "K", "M"], "as": ["s", "y"]}],
          "mark": {"type": "line", "strokeWidth": 4},
          "encoding": {
            "color": {"field": "s", "type": "nominal",
              "scale": {"domain": ["A","B","C","D","E","F","G","H","I","J","K","L","M","N","O","P"],
                        "range": ["#ff0000","#ff1400","#ff2700","#ff3b00","#ff4e00","#ff6200","#ff7600","#ff8900","#ff9d00","#ffb100","#ffc400","#ffd800","#ffeb00","#ffff00","#ffffff","#0000ff"]},
              "legend": {
                "title": null, "orient": "none", "legendX": 132, "legendY": 10, "columns": 4,
                "symbolType": "M-1,0H3.8", "symbolStrokeWidth": 4, "symbolSize": 400,
                "labelFont": "DejaVu Sans", "labelFontSize": 22, "labelColor": "#000000",
                "labelOffset": 40, "labelLimit": 400, "columnPadding": 42, "rowPadding": 9,
                "padding": 8, "fillColor": "#ffffff", "strokeColor": "#d4d4d4", "cornerRadius": 5,
                "labelExpr": "datum.label=='A'?'2009-09-16':datum.label=='B'?'2009-10-27':datum.label=='C'?'2010-11-02':datum.label=='D'?'2010-04-23':datum.label=='E'?'2010-06-11':datum.label=='F'?'2010-09-27':datum.label=='G'?'2011-07-01':datum.label=='H'?'2011-07-01':datum.label=='I'?'2011-05-01':datum.label=='J'?'2011-05-01':datum.label=='K'?'2011-08-18':datum.label=='L'?'2011-08-18':datum.label=='M'?'2012-02-04':datum.label=='N'?'2012-02-04':datum.label=='O'?'2001-10-17':['2001-10-18','2003-10-11','2003-10-13']"
              }}
          }
        },
        {
          "data": {"name": "botBlue"},
          "transform": [{"flatten": ["x", "y"]}],
          "mark": {"type": "line", "strokeWidth": 4.5, "interpolate": "monotone"},
          "encoding": {
            "color": {"field": "s", "type": "nominal",
              "scale": {"domain": ["A","B","C","D","E","F","G","H","I","J","K","L","M","N","O","P"],
                        "range": ["#ff0000","#ff1400","#ff2700","#ff3b00","#ff4e00","#ff6200","#ff7600","#ff8900","#ff9d00","#ffb100","#ffc400","#ffd800","#ffeb00","#ffff00","#ffffff","#0000ff"]},
              "legend": {
                "title": null, "orient": "none", "legendX": 132, "legendY": 10, "columns": 4,
                "symbolType": "M-1,0H3.8", "symbolStrokeWidth": 4, "symbolSize": 400,
                "labelFont": "DejaVu Sans", "labelFontSize": 22, "labelColor": "#000000",
                "labelOffset": 40, "labelLimit": 400, "columnPadding": 42, "rowPadding": 9,
                "padding": 8, "fillColor": "#ffffff", "strokeColor": "#d4d4d4", "cornerRadius": 5,
                "labelExpr": "datum.label=='A'?'2009-09-16':datum.label=='B'?'2009-10-27':datum.label=='C'?'2010-11-02':datum.label=='D'?'2010-04-23':datum.label=='E'?'2010-06-11':datum.label=='F'?'2010-09-27':datum.label=='G'?'2011-07-01':datum.label=='H'?'2011-07-01':datum.label=='I'?'2011-05-01':datum.label=='J'?'2011-05-01':datum.label=='K'?'2011-08-18':datum.label=='L'?'2011-08-18':datum.label=='M'?'2012-02-04':datum.label=='N'?'2012-02-04':datum.label=='O'?'2001-10-17':['2001-10-18','2003-10-11','2003-10-13']"
              }}
          }
        },
        {
          "data": {"name": "botBlack"},
          "transform": [{"flatten": ["x", "y"]}],
          "mark": {"type": "line", "strokeWidth": 4.5, "color": "#000000", "interpolate": "monotone"},
          "encoding": {}
        }
      ]
    }
  ],
  "config": {
    "font": "DejaVu Sans",
    "view": {"stroke": "#000000", "strokeWidth": 2},
    "axis": {
      "grid": false, "domain": false,
      "tickColor": "#000000", "tickWidth": 2, "tickSize": 10,
      "labelFont": "DejaVu Sans", "labelFontSize": 26, "labelColor": "#000000",
      "titleFont": "DejaVu Sans", "titleFontSize": 26, "titleFontWeight": "normal", "titleColor": "#000000",
      "labelFlush": false, "labelOverlap": false
    },
    "axisX": {"labelPadding": 6, "titlePadding": 8},
    "axisY": {"labelPadding": 10, "titlePadding": 12},
    "line": {"strokeJoin": "round"}
  }
}
